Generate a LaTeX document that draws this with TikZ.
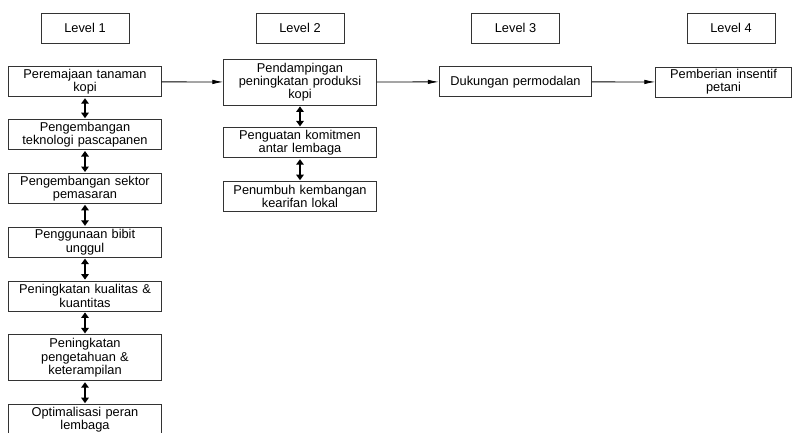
\documentclass[tikz,border=0pt]{standalone}
\usepackage{fontspec}
\setmainfont{Liberation Sans}
\usetikzlibrary{positioning,arrows.meta}

\begin{document}
\begin{tikzpicture}[x=1pt,y=-1pt,>=Latex,thick,node distance=23pt,
    box/.style={draw=black!80,line width=0.8pt,fill=white,align=center,inner ysep=0pt,
        minimum height=30pt,font=\fontsize{12.8}{13.3}\selectfont},
    level box/.style={box,minimum width=88pt},
    main box/.style={box,minimum width=152pt,text width=146pt},
    dbl/.style={{Triangle[width=7.5pt,length=5.5pt]}-{Triangle[width=7.5pt,length=5.5pt]},line width=1.7pt,shorten >=1pt,shorten <=1pt},
    flow/.style={-{Latex[length=11pt,width=4.5pt]},line width=0.8pt}]

            \useasboundingbox (0,0) rectangle (795,432);

            \node[level box] (l1) at (85,28){Level 1};
            \node[level box] (l2) at (300,28){Level 2};
            \node[level box] (l3) at (515.5,28){Level 3};
            \node[level box] (l4) at (731,28){Level 4};

            % level 1
            \node[main box] (a1) [below=of l1]{Peremajaan tanaman\\kopi};
            \node[main box] (a2) [below=22pt of a1]{Pengembangan\\teknologi pascapanen};
            \node[main box] (a3) [below=of a2]{Pengembangan sektor\\pemasaran};
            \node[main box] (a4) [below=of a3]{Penggunaan bibit\\unggul};
            \node[main box] (a5) [below=of a4]{Peningkatan kualitas \&\\kuantitas};
            \node[main box,minimum height=46pt] (a6) [below=of a5]{Peningkatan\\pengetahuan \&\\keterampilan};
            \node[main box] (a7) [below=of a6]{Optimalisasi peran\\lembaga};

            % level 2
            \node[main box,minimum height=46pt] (b1) [below=15.2pt of l2]{Pendampingan\\peningkatan produksi\\kopi};
            \node[main box] (b2) [below=22pt of b1]{Penguatan komitmen\\antar lembaga};
            \node[main box] (b3) [below=of b2]{Penumbuh kembangan\\kearifan lokal};

            % level 3 & 4
            \node[main box] (c1) [below=of l3]{Dukungan permodalan};
            \node[box,minimum width=135pt,text width=129pt] (d1) at (723.5,82){Pemberian insentif\\petani};

            \draw[dbl] (a1) to (a2);
            \draw[dbl] (a2) to (a3);
            \draw[dbl] (a3) to (a4);
            \draw[dbl] (a4) to (a5);
            \draw[dbl] (a5) to (a6);
            \draw[dbl] (a6) to (a7);
            \draw[dbl] (b1) to (b2);
            \draw[dbl] (b2) to (b3);

            \draw[flow] (a1) to (b1);
            \draw[flow] (b1) to (c1);
            \draw[flow] (c1) to (d1);

        \end{tikzpicture}
\end{document}
